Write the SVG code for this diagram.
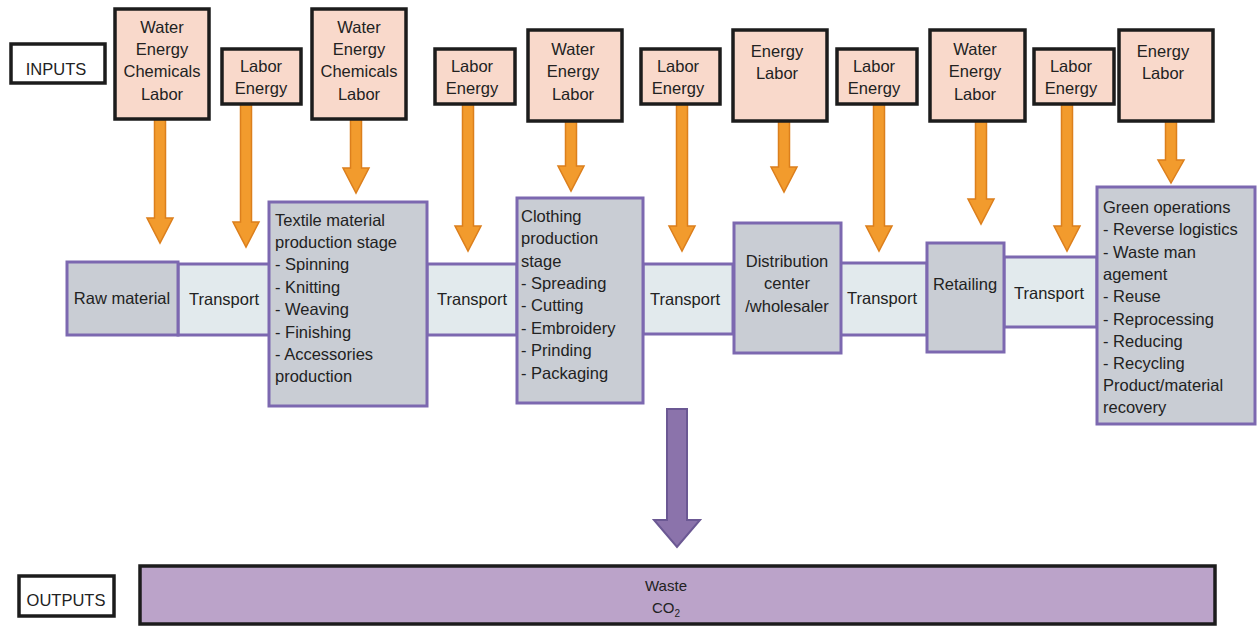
<svg xmlns="http://www.w3.org/2000/svg" width="1257" height="626" viewBox="0 0 1257 626">
<style>
text{font-family:"Liberation Sans",Arial,sans-serif;fill:#222;font-size:16.5px}
.c{text-anchor:middle}
.inp{fill:#f9d9cb;stroke:#1c1c1c;stroke-width:3.5}
.lbl{fill:#fff;stroke:#1c1c1c;stroke-width:3.5}
.main{fill:#c9cdd4;stroke:#7c68b0;stroke-width:3}
.tr{fill:#e2eaed;stroke:#7c68b0;stroke-width:3}
.oa{fill:#f29b2d;stroke:#dc7f1c;stroke-width:1.5}
.pa{fill:#8b73ab;stroke:#6b5893;stroke-width:2}
.out{fill:#bba3c9;stroke:#1c1c1c;stroke-width:3.5}
</style>
<g id="connectors">
<path class="oa" d="M154.5,119H165.5V218H173L160,243L147,218H154.5Z"/>
<path class="oa" d="M240.5,104H251.5V222H259L246,247L233,222H240.5Z"/>
<path class="oa" d="M350.5,119H361.5V168H369L356,193L343,168H350.5Z"/>
<path class="oa" d="M462.5,104H473.5V226H481L468,251L455,226H462.5Z"/>
<path class="oa" d="M565.5,121H576.5V166H584L571,191L558,166H565.5Z"/>
<path class="oa" d="M676.5,104H687.5V226H695L682,251L669,226H676.5Z"/>
<path class="oa" d="M778.5,121H789.5V167H797L784,192L771,167H778.5Z"/>
<path class="oa" d="M873.5,104H884.5V226H892L879,251L866,226H873.5Z"/>
<path class="oa" d="M975.5,121H986.5V199H994L981,224L968,199H975.5Z"/>
<path class="oa" d="M1061.5,104H1072.5V226H1080L1067,251L1054,226H1061.5Z"/>
<path class="oa" d="M1165.5,121H1176.5V160H1184L1171,183L1158,160H1165.5Z"/>
<path class="pa" d="M667,409H687V520H700L677,547L654,520H667Z"/>
</g>
<g id="inputs-label"><rect class="lbl" x="11" y="44" width="94" height="39"/><text class="c" x="56" y="75">INPUTS</text></g>
<g id="in1"><rect class="inp" x="115" y="9" width="94" height="110"/><text class="c" x="162" y="33">Water</text><text class="c" x="162" y="55">Energy</text><text class="c" x="162" y="77">Chemicals</text><text class="c" x="162" y="100">Labor</text></g>
<g id="in2"><rect class="inp" x="222" y="49" width="79" height="55"/><text class="c" x="261" y="72">Labor</text><text class="c" x="261" y="94">Energy</text></g>
<g id="in3"><rect class="inp" x="312" y="9" width="94" height="110"/><text class="c" x="359" y="33">Water</text><text class="c" x="359" y="55">Energy</text><text class="c" x="359" y="77">Chemicals</text><text class="c" x="359" y="100">Labor</text></g>
<g id="in4"><rect class="inp" x="435" y="49" width="80" height="55"/><text class="c" x="472" y="72">Labor</text><text class="c" x="472" y="94">Energy</text></g>
<g id="in5"><rect class="inp" x="528" y="30" width="94" height="91"/><text class="c" x="573" y="55">Water</text><text class="c" x="573" y="77">Energy</text><text class="c" x="573" y="100">Labor</text></g>
<g id="in6"><rect class="inp" x="641" y="49" width="79" height="55"/><text class="c" x="678" y="72">Labor</text><text class="c" x="678" y="94">Energy</text></g>
<g id="in7"><rect class="inp" x="733" y="30" width="94" height="91"/><text class="c" x="777" y="57">Energy</text><text class="c" x="777" y="79">Labor</text></g>
<g id="in8"><rect class="inp" x="837" y="49" width="80" height="55"/><text class="c" x="874" y="72">Labor</text><text class="c" x="874" y="94">Energy</text></g>
<g id="in9"><rect class="inp" x="930" y="30" width="95" height="91"/><text class="c" x="975" y="55">Water</text><text class="c" x="975" y="77">Energy</text><text class="c" x="975" y="100">Labor</text></g>
<g id="in10"><rect class="inp" x="1034" y="49" width="80" height="55"/><text class="c" x="1071" y="72">Labor</text><text class="c" x="1071" y="94">Energy</text></g>
<g id="in11"><rect class="inp" x="1119" y="30" width="94" height="91"/><text class="c" x="1163" y="57">Energy</text><text class="c" x="1163" y="79">Labor</text></g>
<g id="transport1"><rect class="tr" x="178" y="264" width="92" height="71"/><text class="c" x="224" y="305">Transport</text></g>
<g id="transport2"><rect class="tr" x="427" y="264" width="90" height="71"/><text class="c" x="472" y="305">Transport</text></g>
<g id="transport3"><rect class="tr" x="643" y="264" width="90" height="70"/><text class="c" x="685" y="305">Transport</text></g>
<g id="transport4"><rect class="tr" x="840" y="263" width="87" height="72"/><text class="c" x="882" y="304">Transport</text></g>
<g id="transport5"><rect class="tr" x="1004" y="257" width="93" height="70"/><text class="c" x="1049" y="299">Transport</text></g>
<g id="raw"><rect class="main" x="67" y="262" width="111" height="73"/><text class="c" x="122" y="304">Raw material</text></g>
<g id="textile"><rect class="main" x="269" y="202" width="158" height="204"/>
<text x="275" y="226">Textile material</text><text x="275" y="248">production stage</text><text x="275" y="270">- Spinning</text><text x="275" y="293">- Knitting</text><text x="275" y="315">- Weaving</text><text x="275" y="338">- Finishing</text><text x="275" y="360">- Accessories</text><text x="275" y="382">production</text></g>
<g id="clothing"><rect class="main" x="517" y="198" width="126" height="205"/>
<text x="521" y="222">Clothing</text><text x="521" y="244">production</text><text x="521" y="267">stage</text><text x="521" y="289">- Spreading</text><text x="521" y="311">- Cutting</text><text x="521" y="334">- Embroidery</text><text x="521" y="356">- Prinding</text><text x="521" y="379">- Packaging</text></g>
<g id="distribution"><rect class="main" x="734" y="223" width="107" height="130"/><text class="c" x="787" y="267">Distribution</text><text class="c" x="787" y="289">center</text><text class="c" x="787" y="312">/wholesaler</text></g>
<g id="retailing"><rect class="main" x="927" y="243" width="77" height="109"/><text class="c" x="965" y="290">Retailing</text></g>
<g id="green"><rect class="main" x="1097" y="187" width="158" height="237"/>
<text x="1103" y="213">Green operations</text><text x="1103" y="235">- Reverse logistics</text><text x="1103" y="258">- Waste man</text><text x="1103" y="280">agement</text><text x="1103" y="302">- Reuse</text><text x="1103" y="325">- Reprocessing</text><text x="1103" y="347">- Reducing</text><text x="1103" y="369">- Recycling</text><text x="1103" y="391">Product/material</text><text x="1103" y="413">recovery</text></g>
<g id="outputs-label"><rect class="lbl" x="19" y="576" width="95" height="40"/><text class="c" x="66" y="606">OUTPUTS</text></g>
<g id="outputs"><rect class="out" x="140" y="566" width="1075" height="58"/><text class="c" x="666" y="591" style="font-size:15px">Waste</text><text class="c" x="666" y="613" style="font-size:15px">CO<tspan dy="4" style="font-size:10px">2</tspan></text></g>
</svg>
